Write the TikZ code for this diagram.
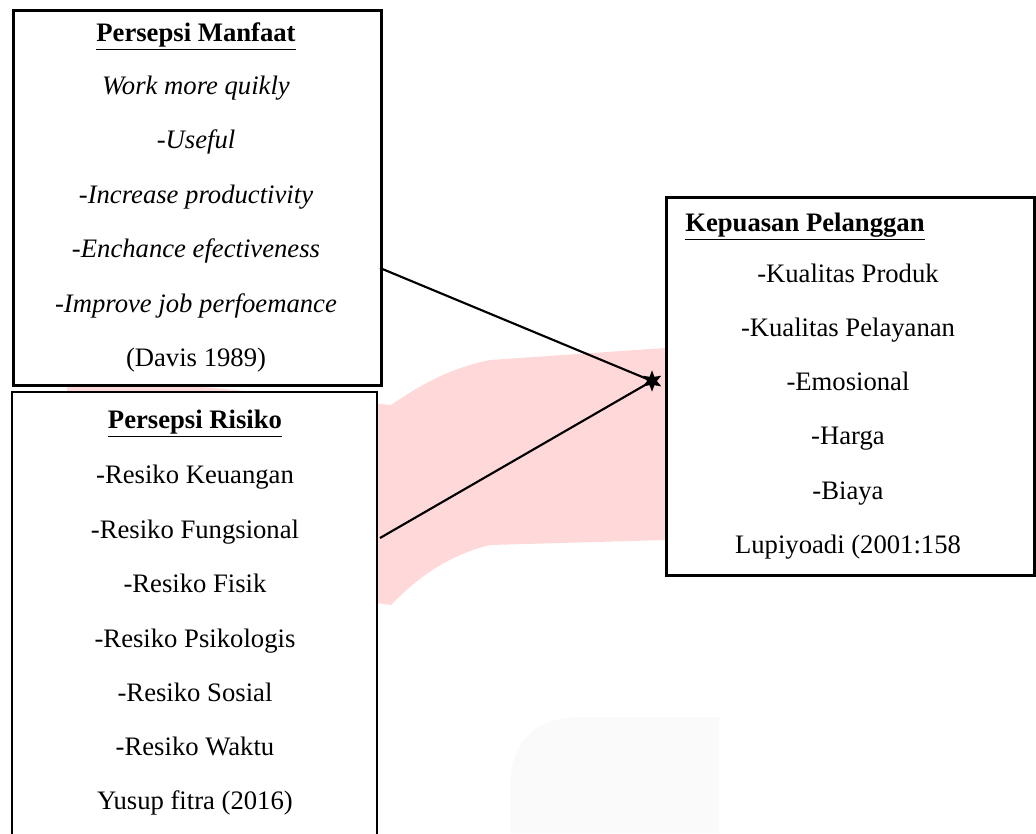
\documentclass[tikz,border=0pt]{standalone}
\usepackage{fontspec}
\setmainfont{Liberation Serif}
\usetikzlibrary{shapes.geometric}
\begin{document}
\begin{tikzpicture}[x=0.75pt,y=-0.75pt,
  boxline/.style={draw=black,line width=2.2pt,fill=white},
  txt/.style={inner sep=0pt,text height=13.5pt,text depth=4pt,font=\fontsize{20pt}{24pt}\selectfont},
  ttl/.style={txt,font=\fontsize{20pt}{24pt}\selectfont\bfseries},
  conn/.style={line width=1.6pt}]
\useasboundingbox (0,0) rectangle (1036,833);
% watermark band
\fill[red!15!white] (67,374) -- (391,405) .. controls (420,385) and (450,368) .. (490,360)
  -- (665,348) -- (665,540) -- (490,545) .. controls (450,555) and (420,575) .. (391,605) -- (67,560) -- cycle;
\fill[black!2!white] (510,833) -- (510,790) .. controls (510,735) and (540,718) .. (580,717) -- (719,717) -- (719,833) -- cycle;
% boxes
\node[boxline,minimum width=276pt,minimum height=281.25pt,anchor=north west,inner sep=0pt] (b1) at (12,9) {};
\draw[boxline] (12,840) -- (12,392) -- (377,392) -- (377,840);
\coordinate (b2) at (195,392);
\node[boxline,minimum width=276pt,minimum height=283.5pt,anchor=north west,inner sep=0pt] (b3) at (665,196) {};
% box 1 text
\node[ttl] (t1) at (196,35) {\underline{Persepsi Manfaat}};
\node[txt] (t1a) at (196,88) {\itshape Work more quikly};
\node[txt] (t1b) at (196,142) {-\textit{Useful}};
\node[txt] (t1c) at (196,197) {-\textit{Increase productivity}};
\node[txt] (t1d) at (196,251) {-\textit{Enchance efectiveness}};
\node[txt] (t1e) at (196,306) {-\textit{Improve job perfoemance}};
\node[txt] (t1f) at (196,360) {(Davis 1989)};
% box 2 text
\node[ttl] (t2) at (195,422) {\underline{Persepsi Risiko}};
\node[txt] (t2a) at (195,477) {-Resiko Keuangan};
\node[txt] (t2b) at (195,532) {-Resiko Fungsional};
\node[txt] (t2c) at (195,586) {-Resiko Fisik};
\node[txt] (t2d) at (195,641) {-Resiko Psikologis};
\node[txt] (t2e) at (195,695) {-Resiko Sosial};
\node[txt] (t2f) at (195,749) {-Resiko Waktu};
\node[txt] (t2g) at (195,803) {Yusup fitra (2016)};
% box 3 text
\node[ttl,anchor=west] (t3) at (685,225) {\underline{Kepuasan Pelanggan}};
\node[txt] (t3a) at (848,276) {-Kualitas Produk};
\node[txt] (t3b) at (848,330) {-Kualitas Pelayanan};
\node[txt] (t3c) at (848,384) {-Emosional};
\node[txt] (t3d) at (848,438) {-Harga};
\node[txt] (t3e) at (848,493) {-Biaya};
\node[txt] (t3f) at (848,547) {Lupiyoadi (2001:158};
% connectors
\coordinate (s1) at (380,268);
\coordinate (s2) at (380,538);
\node[star,star points=6,star point ratio=2.2,fill=black,inner sep=0pt,minimum size=16pt] (tip) at (652,381) {};
\draw[conn] (s1) -- (tip.center);
\draw[conn] (s2) -- (tip.center);
\end{tikzpicture}
\end{document}
